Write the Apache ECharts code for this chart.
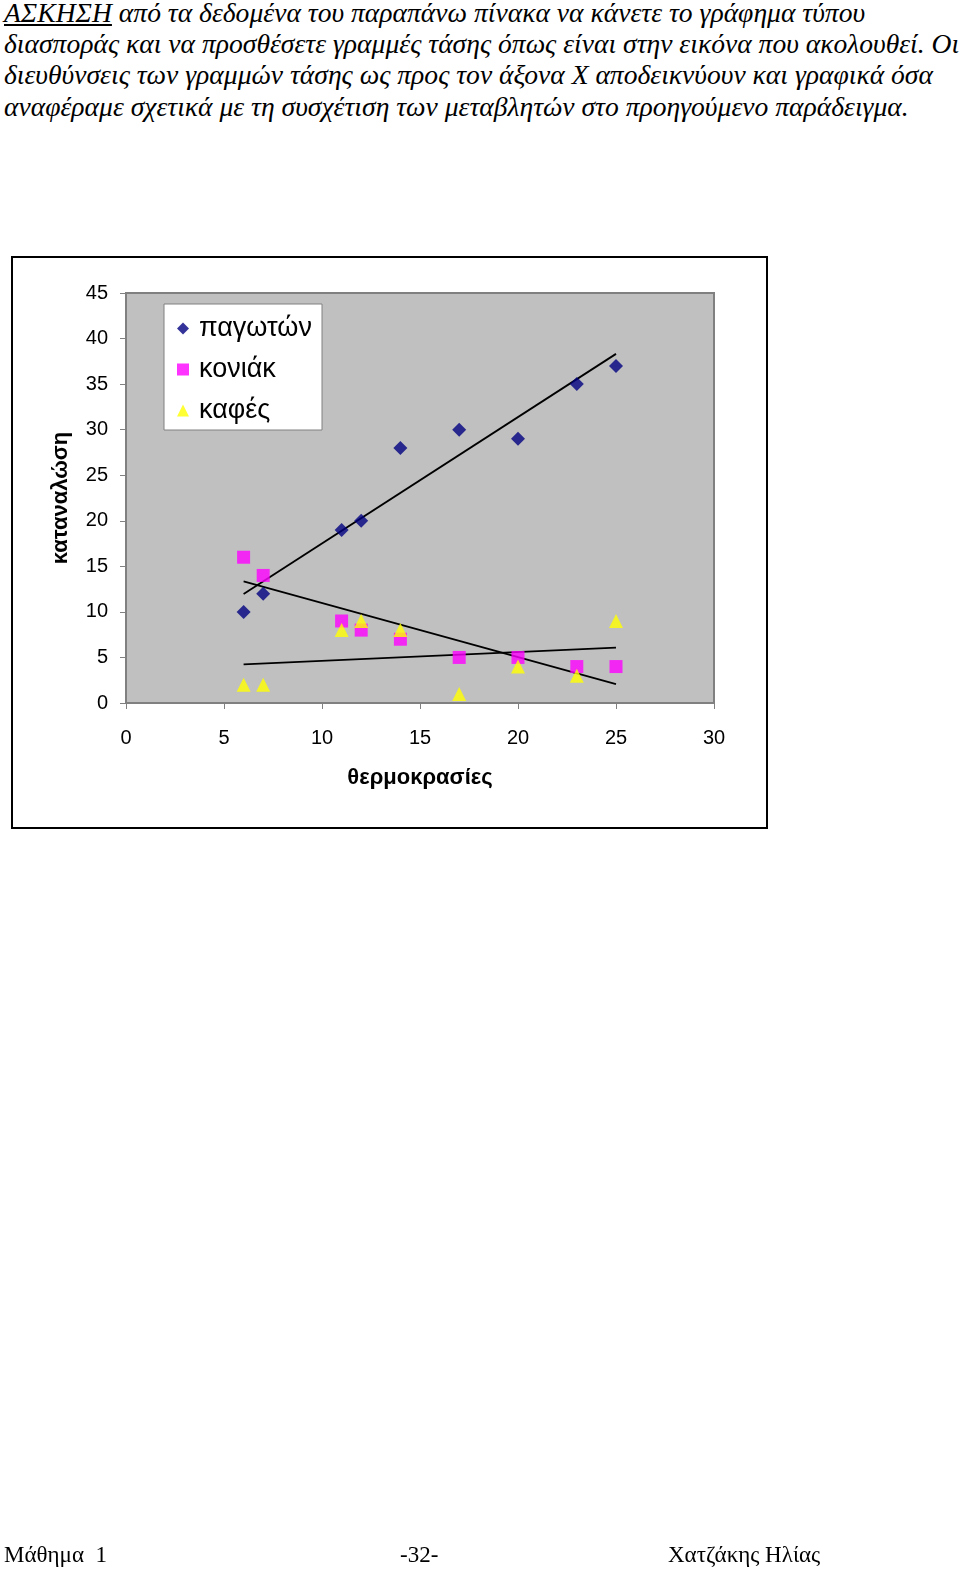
<!DOCTYPE html>
<html>
<head>
<meta charset="utf-8">
<script src="https://cdn.jsdelivr.net/npm/echarts@6/dist/echarts.min.js"></script>
<style>
  html, body { margin: 0; padding: 0; background: #fff; }
  #page { position: relative; width: 960px; height: 1571px; overflow: hidden; }
  #chart { position: absolute; left: 0; top: 0; width: 960px; height: 1571px; }
  .hl { position: absolute; left: 4px; white-space: nowrap; font-family: "Liberation Serif", "Times New Roman", serif; font-style: italic; font-size: 27.6px; color: #000; line-height: 30px; }
  .ft { position: absolute; top: 1540px; white-space: nowrap; font-family: "Liberation Serif", "Times New Roman", serif; font-size: 23px; color: #000; line-height: 30px; }
</style>
</head>
<body>
<div id="page">
  <div class="hl" style="top:-2px"><u>ΑΣΚΗΣΗ</u> από τα δεδομένα του παραπάνω πίνακα να κάνετε το γράφημα τύπου</div>
  <div class="hl" style="top:29px">διασποράς και να προσθέσετε γραμμές τάσης όπως είναι στην εικόνα που ακολουθεί. Οι</div>
  <div class="hl" style="top:60px">διευθύνσεις των γραμμών τάσης ως προς τον άξονα Χ αποδεικνύουν και γραφικά όσα</div>
  <div class="hl" style="top:92px">αναφέραμε σχετικά με τη συσχέτιση των μεταβλητών στο προηγούμενο παράδειγμα.</div>
  <div id="chart"></div>
  <div class="ft" style="left:4px">Μάθημα &nbsp;1</div>
  <div class="ft" style="left:400px">-32-</div>
  <div class="ft" style="left:668px">Χατζάκης Ηλίας</div>
</div>
<script>
// Data
const temperatures = [6, 7, 11, 12, 14, 17, 20, 23, 25];
const iceCream = [10, 12, 19, 20, 28, 30, 29, 35, 37];   // παγωτών
const cognac   = [16, 14, 9, 8, 7, 5, 5, 4, 4];          // κονιάκ
const coffee   = [2, 2, 8, 9, 8, 1, 4, 3, 9];            // καφές
const seriesNames = ['παγωτών', 'κονιάκ', 'καφές'];
const xTicks = [0, 5, 10, 15, 20, 25, 30];
const yTicks = [0, 5, 10, 15, 20, 25, 30, 35, 40, 45];

function pairs(xs, ys) { return xs.map((x, i) => [x, ys[i]]); }
function trend(xs, ys) {
  const n = xs.length;
  const mx = xs.reduce((a, b) => a + b, 0) / n;
  const my = ys.reduce((a, b) => a + b, 0) / n;
  let sxy = 0, sxx = 0;
  for (let i = 0; i < n; i++) { sxy += (xs[i] - mx) * (ys[i] - my); sxx += (xs[i] - mx) ** 2; }
  const b = sxy / sxx, a = my - b * mx;
  const x0 = Math.min(...xs), x1 = Math.max(...xs);
  return [[x0, a + b * x0], [x1, a + b * x1]];
}

const chart = echarts.init(document.getElementById('chart'), null, { renderer: 'canvas' });
const font = 'Arial, "Liberation Sans", sans-serif';
const trendStyle = { type: 'line', showSymbol: false, symbol: 'none', silent: true,
  lineStyle: { color: '#000', width: 1.8 }, z: 3 };

chart.setOption({
  animation: false,
  backgroundColor: 'transparent',
  graphic: [
    { type: 'rect', shape: { x: 12, y: 257, width: 755, height: 571 },
      style: { fill: '#fff', stroke: '#000', lineWidth: 2 }, z: -10 },
    { type: 'rect', shape: { x: 164, y: 304, width: 158, height: 126 },
      style: { fill: '#fff', stroke: '#808080', lineWidth: 1 }, z: 50 }
  ],
  grid: { left: 126, top: 293, width: 588, height: 410, show: true,
    backgroundColor: '#C0C0C0', borderColor: '#808080', borderWidth: 2 },
  legend: {
    left: 177, top: 315, orient: 'vertical', itemGap: 14, itemWidth: 12, itemHeight: 12,
    padding: 0, data: seriesNames, z: 60,
    textStyle: { fontFamily: font, fontSize: 27, color: '#000', padding: [0, 0, 0, 5] }
  },
  xAxis: {
    type: 'value', min: xTicks[0], max: xTicks[xTicks.length - 1], interval: 5,
    name: 'θερμοκρασίες', nameLocation: 'middle', nameGap: 64,
    nameTextStyle: { fontFamily: font, fontSize: 22, fontWeight: 'bold', color: '#000' },
    axisLine: { show: true, lineStyle: { color: '#808080', width: 1 } },
    axisTick: { show: true, length: 6, lineStyle: { color: '#808080' } },
    axisLabel: { fontFamily: font, fontSize: 20, color: '#000', margin: 25 },
    splitLine: { show: false }
  },
  yAxis: {
    type: 'value', min: yTicks[0], max: yTicks[yTicks.length - 1], interval: 5,
    name: 'καταναλώση', nameLocation: 'middle', nameGap: 54, nameRotate: 90,
    nameTextStyle: { fontFamily: font, fontSize: 22, fontWeight: 'bold', color: '#000' },
    axisLine: { show: true, lineStyle: { color: '#808080', width: 1 } },
    axisTick: { show: true, length: 6, lineStyle: { color: '#808080' } },
    axisLabel: { fontFamily: font, fontSize: 20, color: '#000', margin: 18 },
    splitLine: { show: false }
  },
  series: [
    { name: seriesNames[0], type: 'scatter', symbol: 'diamond', symbolSize: 14,
      itemStyle: { color: '#000080' }, data: pairs(temperatures, iceCream), z: 4 },
    { name: seriesNames[1], type: 'scatter', symbol: 'rect', symbolSize: 13,
      itemStyle: { color: '#FF00FF' }, data: pairs(temperatures, cognac), z: 4 },
    { name: seriesNames[2], type: 'scatter', symbol: 'triangle', symbolSize: 14,
      itemStyle: { color: '#FFFF00' }, data: pairs(temperatures, coffee), z: 4 },
    Object.assign({ name: 'trend1', data: trend(temperatures, iceCream) }, trendStyle),
    Object.assign({ name: 'trend2', data: trend(temperatures, cognac) }, trendStyle),
    Object.assign({ name: 'trend3', data: trend(temperatures, coffee) }, trendStyle)
  ]
});
</script>
</body>
</html>
